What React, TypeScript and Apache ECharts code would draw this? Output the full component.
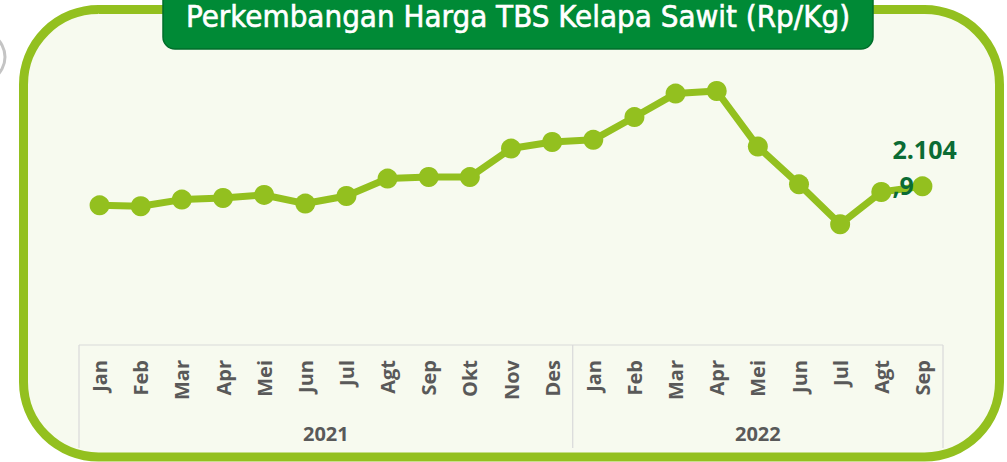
import React, { useEffect, useRef } from "react";
import * as echarts from "echarts";

const title = "Perkembangan Harga TBS Kelapa Sawit (Rp/Kg)";
const months = ["Jan", "Feb", "Mar", "Apr", "Mei", "Jun", "Jul", "Agt", "Sep", "Okt", "Nov", "Des", "Jan", "Feb", "Mar", "Apr", "Mei", "Jun", "Jul", "Agt", "Sep"];
const years = ["2021", "2022"];
const yearCounts = [12, 9];
const prices = [1846, 1833, 1924, 1946, 1987, 1870, 1973, 2210, 2231, 2230, 2618, 2707, 2737, 3047, 3366, 3401, 2645, 2132, 1588, 2027, 2104.9];

const GREEN = "#93C01F";
const LABEL_GREEN = "#0B6B34";
const GREY_TEXT = "#595959";

function fmtId(v: number): string {
  const [i, d] = v.toFixed(1).split(".");
  const intStr = i.replace(/\B(?=(\d{3})+(?!\d))/g, ".");
  return `${intStr}\n,${d}`;
}

export default function App() {
  const ref = useRef<HTMLDivElement>(null);
  useEffect(() => {
    if (!ref.current) return;
    const chart = echarts.init(ref.current, undefined, { renderer: "svg" });
    const option: any = {
      animation: false,
      grid: { left: 79, right: 64, top: 47, bottom: 121 },
      xAxis: {
        type: "category",
        data: months,
        boundaryGap: true,
        axisLine: { show: false },
        axisTick: { show: false },
        axisLabel: {
          interval: 0,
          rotate: 90,
          margin: 19,
          fontSize: 20,
          fontWeight: "bold",
          color: GREY_TEXT,
          fontFamily: "'Open Sans', sans-serif",
        },
      },
      yAxis: { type: "value", min: 0, max: 4000, show: false, splitLine: { show: false } },
      series: [
        {
          type: "line",
          data: prices,
          z: 5,
          symbol: "circle",
          symbolSize: 20,
          lineStyle: { color: GREEN, width: 7 },
          itemStyle: { color: GREEN },
        },
      ],
    };
    chart.setOption(option);

    const xAt = (i: number) => chart.convertToPixel({ xAxisIndex: 0 }, i) as number;
    const step = xAt(1) - xAt(0);
    const bounds: number[] = [];
    let acc = 0;
    bounds.push(xAt(0) - step / 2);
    yearCounts.forEach((c) => {
      acc += c;
      bounds.push(xAt(acc - 1) + step / 2);
    });
    const boxTop = 345;
    const boxBottom = 448;
    const lineStyle = { stroke: "#D9D9D9", lineWidth: 1.2 };
    const gridEls: any[] = [
      { type: "line", z: 1, shape: { x1: bounds[0], y1: boxTop, x2: bounds[bounds.length - 1], y2: boxTop }, style: lineStyle },
      ...bounds.map((b) => ({ type: "line", z: 1, shape: { x1: b, y1: boxTop, x2: b, y2: boxBottom }, style: lineStyle })),
      ...years.map((y, k) => ({
        type: "text",
        z: 1,
        x: (bounds[k] + bounds[k + 1]) / 2,
        y: 433,
        style: {
          text: y,
          align: "center",
          verticalAlign: "middle",
          fontSize: 20,
          fontWeight: "bold",
          fill: GREY_TEXT,
          fontFamily: "'Open Sans', sans-serif",
        },
      })),
    ];
    const last = prices.length - 1;
    const pt = chart.convertToPixel({ seriesIndex: 0 }, [last, prices[last]]) as number[];

    chart.setOption({
      graphic: [
        {
          type: "circle",
          z: 0,
          shape: { cx: -20, cy: 57, r: 25 },
          style: { fill: "#FFFFFF", stroke: "#C4C4C4", lineWidth: 3 },
        },
        {
          type: "rect",
          z: 0,
          shape: { x: 23.5, y: 9.5, width: 976, height: 447.5, r: 75 },
          style: { fill: "#F7FAEF", stroke: GREEN, lineWidth: 9 },
        },
        {
          type: "rect",
          z: 1,
          shape: { x: 163, y: -20, width: 710, height: 69, r: 12 },
          style: { fill: "#008A36", stroke: "#006E2B", lineWidth: 1.5 },
        },
        {
          type: "text",
          z: 2,
          x: 518,
          y: 16,
          style: {
            text: title,
            align: "center",
            verticalAlign: "middle",
            fontSize: 31,
            lineHeight: 30,
            fill: "#FFFFFF",
            stroke: "#FFFFFF",
            lineWidth: 0.6,
            fontFamily: "'Liberation Sans Narrow', 'DejaVu Sans Condensed', sans-serif",
          },
        },
        ...gridEls,
        {
          type: "text",
          z: 10,
          x: pt[0] - 30,
          y: pt[1] - 55,
          style: {
            text: fmtId(prices[last]),
            align: "left",
            verticalAlign: "top",
            fontSize: 25,
            lineHeight: 36,
            fontWeight: "bold",
            fill: LABEL_GREEN,
            fontFamily: "'Open Sans', sans-serif",
          },
        },
      ],
    });
    return () => chart.dispose();
  }, []);
  return <div ref={ref} style={{ position: "absolute", left: 0, top: 0, width: 1007, height: 462, background: "#FFFFFF" }} />;
}
